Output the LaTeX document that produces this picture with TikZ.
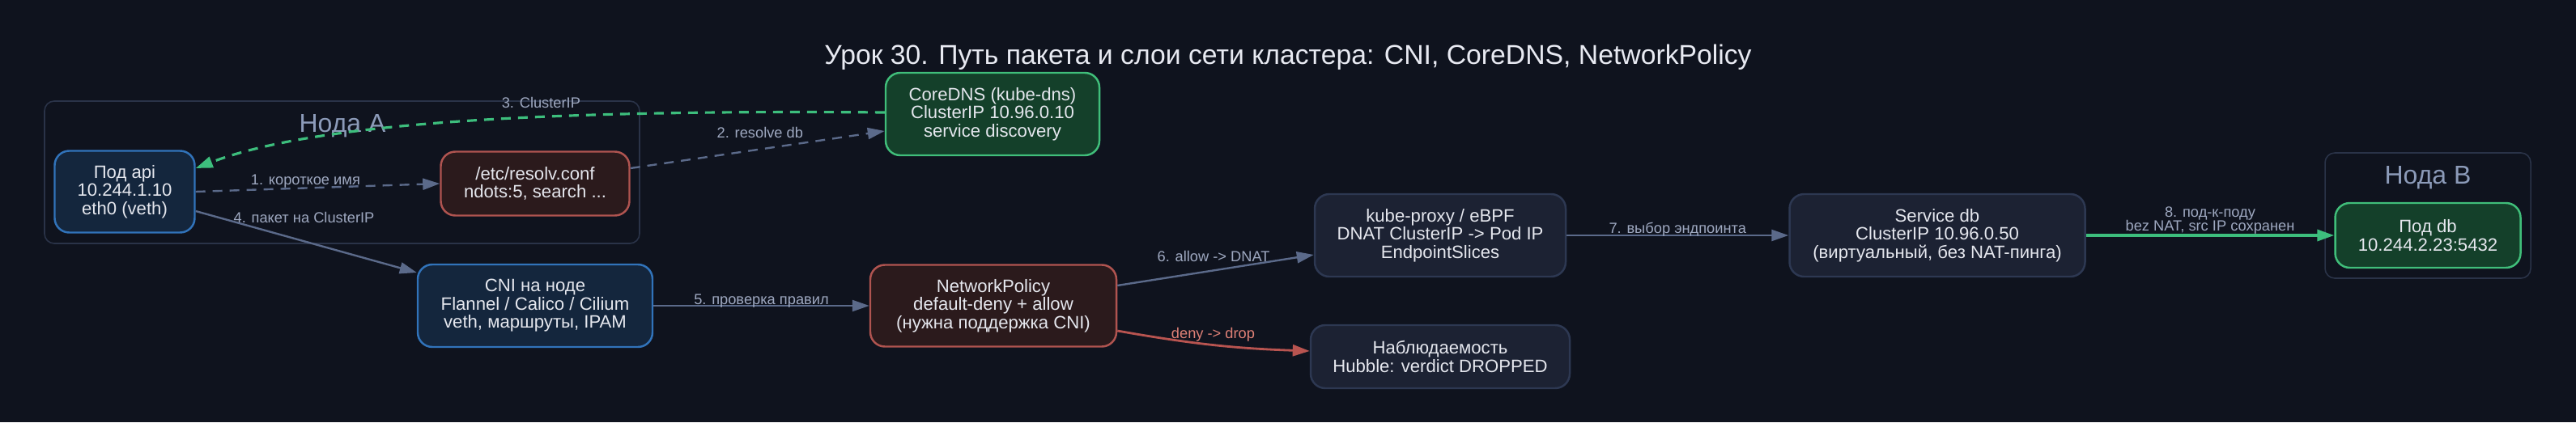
\documentclass[tikz,border=0pt]{standalone}
\usepackage{fontspec}
\setmainfont{Liberation Sans}
\usepackage{xcolor}
\usetikzlibrary{arrows.meta}
\definecolor{bgnavy}{RGB}{15,19,30}
\definecolor{txtlight}{RGB}{229,231,238}
\definecolor{titletext}{RGB}{232,234,242}
\definecolor{clusterline}{RGB}{42,51,72}
\definecolor{clustertext}{RGB}{140,155,185}
\definecolor{lbltext}{RGB}{158,168,192}
\definecolor{redlbl}{RGB}{222,128,118}
\definecolor{edgegrey}{RGB}{91,106,138}
\definecolor{rededge}{RGB}{184,84,80}
\definecolor{greenedge}{RGB}{61,190,125}
\definecolor{greyfill}{RGB}{28,34,51}
\definecolor{greyline}{RGB}{45,56,82}
\definecolor{bluefill}{RGB}{20,38,61}
\definecolor{blueline}{RGB}{49,115,186}
\definecolor{redfill}{RGB}{43,26,28}
\definecolor{redline}{RGB}{176,84,80}
\definecolor{greenfill}{RGB}{20,64,42}
\definecolor{greenline}{RGB}{64,190,122}

\begin{document}
\begin{tikzpicture}[
  every node/.style={font=\fontsize{6.3}{6.4}\selectfont, text=txtlight},
  box/.style={draw, line width=0.7pt, rounded corners=0.18cm, align=center, inner sep=0pt},
  greybox/.style={box, fill=greyfill, draw=greyline},
  bluebox/.style={box, fill=bluefill, draw=blueline},
  redbox/.style={box, fill=redfill, draw=redline},
  greenbox/.style={box, fill=greenfill, draw=greenline},
  cluster/.style={draw=clusterline, line width=0.45pt, rounded corners=0.12cm},
  clabel/.style={font=\fontsize{9.1}{10}\selectfont, text=clustertext, anchor=base},
  lbl/.style={font=\fontsize{5.2}{4.9}\selectfont, text=lbltext, inner sep=0pt, anchor=base},
  flow/.style={-{Triangle[length=0.21cm,width=0.14cm]}, line width=0.68pt, draw=edgegrey},
  dashflow/.style={flow, dash pattern=on 0.12cm off 0.09cm},
]
\useasboundingbox (0,0) rectangle (31.82,5.22);
\fill[bgnavy] (0,0) rectangle (31.82,5.22);
\node[font=\fontsize{9.6}{10}\selectfont, text=titletext, anchor=base] (title) at (15.91,4.43)
  {Урок 30. Путь пакета и слои сети кластера: CNI, CoreDNS, NetworkPolicy};
% Нода A
\draw[cluster] (0.55,2.21) rectangle (7.90,3.97);
\node[clabel] (nodeA) at (4.23,3.59) {Нода A};
\node[bluebox, minimum width=1.73cm, minimum height=1.01cm] (api) at (1.54,2.85) {Под api\\10.244.1.10\\eth0 (veth)};
\node[redbox, minimum width=2.33cm, minimum height=0.79cm] (resolv) at (6.61,2.95) {/etc/resolv.conf\\ndots:5, search ...};
% Нода B
\draw[cluster] (28.72,1.78) rectangle (31.26,3.33);
\node[clabel] (nodeB) at (29.99,2.95) {Нода B};
\node[greenbox, minimum width=2.29cm, minimum height=0.80cm] (poddb) at (29.99,2.31) {Под db\\10.244.2.23:5432};
% cluster services
\node[greenbox, minimum width=2.64cm, minimum height=1.02cm] (coredns) at (12.26,3.81) {CoreDNS (kube-dns)\\ClusterIP 10.96.0.10\\service discovery};
\node[bluebox, minimum width=2.90cm, minimum height=1.02cm] (cni) at (6.61,1.44) {CNI на ноде\\Flannel / Calico / Cilium\\veth, маршруты, IPAM};
\node[redbox, minimum width=3.04cm, minimum height=1.01cm] (netpol) at (12.27,1.44) {NetworkPolicy\\default-deny + allow\\(нужна поддержка CNI)};
\node[greybox, minimum width=3.10cm, minimum height=1.02cm] (proxy) at (17.79,2.31) {kube-proxy / eBPF\\DNAT ClusterIP -> Pod IP\\EndpointSlices};
\node[greybox, minimum width=3.20cm, minimum height=0.78cm] (observ) at (17.79,0.81) {Наблюдаемость\\Hubble: verdict DROPPED};
\node[greybox, minimum width=3.65cm, minimum height=1.02cm] (svc) at (23.93,2.31) {Service db\\ClusterIP 10.96.0.50\\(виртуальный, без NAT-пинга)};
% packet path
\draw[dashflow] (api.east) -- node[lbl, pos=.45, yshift=0.04cm] {1. короткое имя} (resolv.west);
\draw[dashflow] ([yshift=0.19cm]resolv.east) -- node[lbl, pos=.51, yshift=0.14cm] {2. resolve db} ([yshift=-0.21cm]coredns.west);
\draw[dashflow, draw=greenedge, line width=0.9pt] ([yshift=0.02cm]coredns.west) .. controls (7.2,3.86) and (4.0,3.75) .. node[lbl, pos=.41, yshift=0.11cm] {3. ClusterIP} ([yshift=0.29cm]api.east);
\draw[flow] ([yshift=-0.24cm]api.east) -- node[lbl, pos=.49, yshift=0.23cm] {4. пакет на ClusterIP} ([yshift=0.41cm]cni.west);
\draw[flow] (cni.east) -- node[lbl, pos=.5, yshift=0.02cm] {5. проверка правил} (netpol.west);
\draw[flow] ([yshift=0.25cm]netpol.east) -- node[lbl, pos=.49, yshift=0.11cm] {6. allow -> DNAT} ([yshift=-0.24cm]proxy.west);
\draw[flow, draw=rededge, line width=0.8pt] ([yshift=-0.31cm]netpol.east) to[out=-10,in=178] node[lbl, text=redlbl, pos=.5, yshift=0.08cm] {deny -> drop} ([yshift=0.07cm]observ.west);
\draw[flow] (proxy.east) -- node[lbl, pos=.5, yshift=0.03cm] {7. выбор эндпоинта} (svc.west);
\draw[flow, draw=greenedge, line width=0.95pt] (svc.east) -- node[lbl, pos=.5, anchor=south, align=center] {8. под-к-поду\\bez NAT, src IP сохранен} (poddb.west);
\end{tikzpicture}
\end{document}
